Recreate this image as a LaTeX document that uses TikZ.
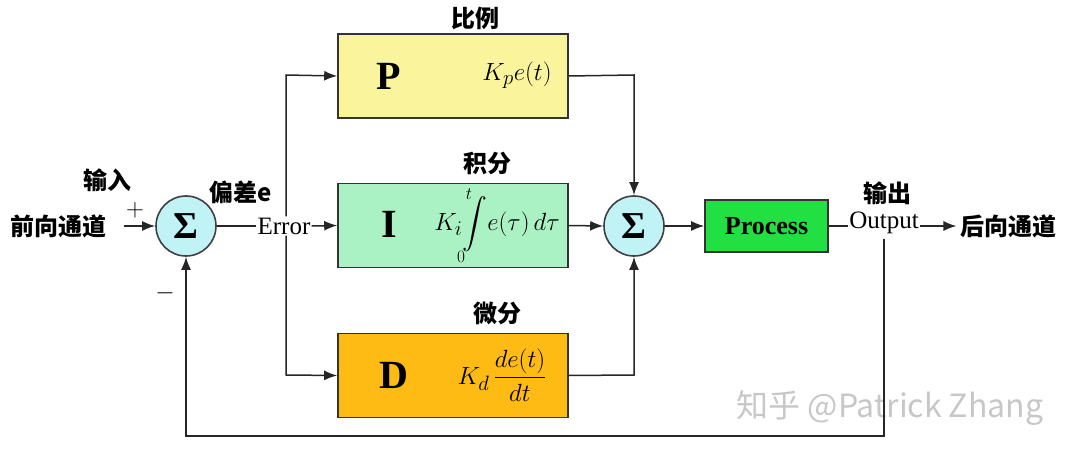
\documentclass[tikz,border=0pt]{standalone}
\usepackage{fontspec}
\usepackage{amsmath}
\setmainfont{Liberation Serif}
\newfontfamily\cjk{Noto Sans CJK SC}
\usetikzlibrary{arrows.meta}
\definecolor{pyel}{HTML}{FAF49C}
\definecolor{igrn}{HTML}{AAF2C4}
\definecolor{dorg}{HTML}{FDBB14}
\definecolor{procg}{HTML}{22E042}
\definecolor{sumc}{HTML}{C0F2F6}
\begin{document}
\begin{tikzpicture}[x=1pt,y=-1pt,
  blk/.style={draw=black!80,line width=1.6pt,minimum width=230pt,minimum height=84pt,inner sep=0pt},
  sumn/.style={circle,draw=black!75,line width=1.6pt,fill=sumc,minimum size=60pt,inner sep=0pt,font=\fontsize{38}{40}\selectfont\bfseries},
  lab/.style={font=\cjk\bfseries\fontsize{24}{26}\selectfont},
  sig/.style={font=\fontsize{25}{27}\selectfont},
  conn/.style={line width=1.5pt,black!85},
  arr/.style={conn,-{Latex[length=13pt,width=10pt]}},
  bigl/.style={font=\bfseries\fontsize{40}{42}\selectfont},
  mth/.style={font=\fontsize{28}{30}\selectfont},
  lim/.style={font=\fontsize{19}{20}\selectfont,inner sep=0pt}]
\useasboundingbox (0,0) rectangle (1073,457);
% summing junctions
\node[sumn] (s1) at (186,226) {Σ};
\node[sumn] (s2) at (634,226) {Σ};
% blocks
\node[blk,fill=pyel] (P) at (453,76) {};
\node[blk,fill=igrn] (I) at (453,225.5) {};
\node[blk,fill=dorg] (D) at (453,375.5) {};
\node[bigl] (Pl) at (389,76) {P};
\node[bigl] (Il) at (389,224) {I};
\node[bigl] (Dl) at (394,375) {D};
\node[mth] (Pf) at (517,75) {$K_p e(t)$};
\node[mth] (If) at (497,224) {$K_i\!\displaystyle\int\! e(\tau)\,d\tau$};
\node[lim] (It) at (469,194) {$t$};
\node[lim] (I0) at (461,257) {$0$};
\node[mth] (Df) at (502,375) {$K_d\,\dfrac{de(t)}{dt}$};
\node[draw=black!80,line width=1.6pt,fill=procg,minimum width=123pt,minimum height=52pt,inner sep=0pt,font=\bfseries\fontsize{26}{28}\selectfont] (proc) at (766.5,226) {Process};
% labels
\node[lab] (bl) at (475,18) {比例};
\node[lab] (jf) at (487,163) {积分};
\node[lab] (wf) at (497,313) {微分};
\node[lab] (in) at (58,226) {前向通道};
\node[lab] (sr) at (107,180) {输入};
\node[lab] (pc) at (241,192) {偏差e};
\node[lab] (sc) at (887,193) {输出};
\node[lab] (out) at (1008,226) {后向通道};
\node[sig] (plus) at (135,210) {$+$};
\node[sig] (minus) at (165,293) {$-$};
\node[sig,inner sep=1pt] (err) at (284,226) {Error};
\node[sig,inner sep=1pt] (outp) at (884,223) {Output};
\node[font=\cjk\fontsize{32}{34}\selectfont,text=black!22] (wm) at (890,408) {知乎 @Patrick Zhang};
% coordinates
\coordinate (eb) at (286,75);
\coordinate (ed) at (286,375);
\coordinate (pr) at (634,75);
\coordinate (dr) at (634,375);
\coordinate (fb1) at (884,436);
\coordinate (fb2) at (186,436);
% connectors
\draw[arr] (in.east) ++(14,0) coordinate (ia) -- (s1.west);
\draw[conn] (s1.east) -- (err.west);
\draw[arr] (err.east) -- (I.west);
\draw[arr] (err.north -| eb) -- (eb) -- (P.west);
\draw[arr] (err.south -| ed) -- (ed) -- (D.west);
\draw[arr] (P.east) -- (pr) -- (s2.north);
\draw[arr] (I.east) -- (s2.west);
\draw[arr] (D.east) -- (dr) -- (s2.south);
\draw[arr] (s2.east) -- (proc.west);
\draw[conn] (proc.east) -- (proc.east -| outp.west);
\draw[arr] (outp.east |- out.west) -- (out.west);
\draw[arr] (outp.south) ++(0,4) -- (fb1) -- (fb2) -- (s1.south);
\end{tikzpicture}
\end{document}
